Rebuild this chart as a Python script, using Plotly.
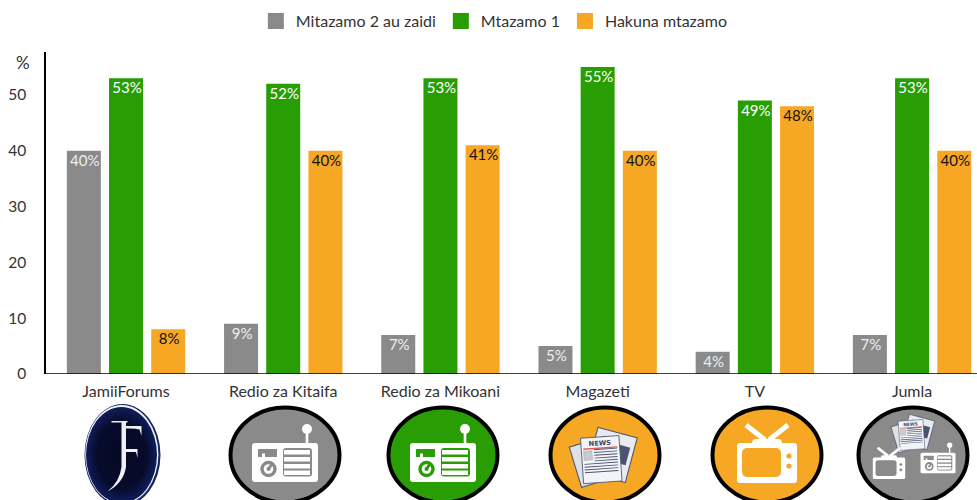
import base64
import plotly.graph_objects as go

categories = ["JamiiForums", "Redio za Kitaifa", "Redio za Mikoani", "Magazeti", "TV", "Jumla"]
series_names = ["Mitazamo 2 au zaidi", "Mtazamo 1", "Hakuna mtazamo"]
two_or_more = [40, 9, 7, 5, 4, 7]
one_view = [53, 52, 53, 55, 49, 53]
no_view = [8, 40, 41, 40, 48, 40]
y_ticks = [0, 10, 20, 30, 40, 50]

GREY, GREEN, ORANGE = "#8a8a8a", "#299e04", "#f6a723"
TEXT = "#333333"
FONT = "Lato, sans-serif"
W, H = 977, 500
L, T, B = 46, 52, 126
PW, PH = W - L, H - T - B


def radio(fg, bg):
    rows = "".join(f'<rect x="-1" y="{y}" width="26" height="4.5" fill="{fg}"/>' for y in (-5, 2, 9, 15.5))
    return (
        f'<rect x="-33" y="-12" width="66" height="39" rx="3" fill="{fg}"/>'
        f'<rect x="20.7" y="-25" width="2.6" height="14" fill="{fg}"/><circle cx="22" cy="-26" r="5" fill="{fg}"/>'
        f'<path d="M-27-6H-8V2H-20V-1.5H-23V2H-27Z" fill="{bg}"/>'
        f'<circle cx="-16.5" cy="14" r="6.5" fill="none" stroke="{bg}" stroke-width="3.4"/>'
        f'<path d="M-16.5 14L-13 9" stroke="{bg}" stroke-width="3"/><circle cx="-16.5" cy="14" r="2" fill="{bg}"/>'
        f'<rect x="-2" y="-7" width="29" height="28.5" rx="3" fill="{bg}"/>{rows}'
    )


def tv(fg, bg):
    return (
        f'<path d="M-2-15L-21-30M2-15L21-30" stroke="{fg}" stroke-width="5"/>'
        f'<rect x="-15" y="-16" width="30" height="8" rx="4" fill="{fg}"/>'
        f'<rect x="-30" y="-12" width="60" height="40" rx="3" fill="{fg}"/>'
        f'<rect x="-25" y="-7" width="39" height="29" rx="5" fill="{bg}"/>'
        f'<circle cx="22" cy="1" r="2.6" fill="{bg}"/><circle cx="22" cy="11" r="2.6" fill="{bg}"/>'
    )


def news():
    lines = "".join(
        f'<rect x="{-11 if y < 8 else -26}" y="{y}" width="{33 if y < 8 else 48}" height="1.3" fill="#4a5470"/>'
        for y in (-9, -5, -1, 3, 7, 11, 15, 19, 23)
    )
    return (
        '<g transform="rotate(15 14 -1)"><rect x="-15" y="-33" width="58" height="66" fill="#e8eaf0" stroke="#4a5470" stroke-width="1.5"/>'
        '<rect x="20" y="-17" width="17" height="26" fill="#4a5470"/></g>'
        '<g transform="rotate(-17 -14 7)"><rect x="-40" y="-20" width="52" height="60" fill="#dfe1e8" stroke="#4a5470" stroke-width="1.5"/></g>'
        '<g transform="rotate(-4)"><rect x="-29" y="-26" width="55" height="65" fill="#f3f4f8" stroke="#4a5470" stroke-width="1.2"/>'
        '<text x="-2" y="-14" font-family="DejaVu Sans" font-size="9.5" font-weight="900" text-anchor="middle" fill="#3d465f">NEWS</text>'
        '<rect x="-26" y="-11" width="49" height="2" fill="#e05a5a"/><rect x="-26" y="-7" width="12" height="13" fill="#c8cad0" stroke="#888" stroke-width=".5"/>'
        f'{lines}</g>'
    )


def badge(fill, body):
    return (
        f'<ellipse cx="0" cy="0" rx="54.5" ry="47.5" fill="{fill}" stroke="#000" stroke-width="4"/>{body}'
    )


jamii = (
    '<defs><radialGradient id="g"><stop offset="0" stop-color="#060822"/><stop offset=".7" stop-color="#070b2c"/>'
    '<stop offset="1" stop-color="#101d5a"/></radialGradient></defs>'
    '<ellipse cx="0" cy="0" rx="38" ry="51" fill="#16275f"/><ellipse cx="-.7" cy="-.6" rx="36.6" ry="49.5" fill="#f2f3f8"/>'
    '<ellipse cx="-1" cy="0" rx="35.5" ry="48" fill="url(#g)"/>'
    '<path d="M-11-34H5V-32.5H3.5V12Q1 28-15 36.5Q-3 27-1 12V-32.5H-11Z" fill="#eef0f6"/>'
    '<path d="M3-29H19V-19L17-25.5Q12-27 3-26.5ZM3-6H15V3L13.5-3H3Z" fill="#eef0f6"/>'
)

ICONS = [
    (122.5, jamii),
    (285, badge(GREY, radio("#ffffff", GREY))),
    (443, badge(GREEN, radio("#ffffff", GREEN))),
    (605, badge(ORANGE, '<g transform="translate(-3 0) scale(.7)">' + news() + "</g>")),
    (767, badge(ORANGE, tv("#ffffff", ORANGE))),
    (913, badge(GREY,
                '<g transform="translate(-1 -23) scale(.45)">' + news() + "</g>"
                '<g transform="translate(-24 9) scale(.54)">' + tv("#ffffff", GREY) + "</g>"
                '<g transform="translate(25 4) scale(.53)">' + radio("#ffffff", GREY) + "</g>")),
]


def icon_image(cx, body, cy=455, hw=60, hh=55):
    svg = (f'<svg xmlns="http://www.w3.org/2000/svg" width="{2*hw}" height="{2*hh}" '
           f'viewBox="{-hw} {-hh} {2*hw} {2*hh}">{body}</svg>')
    return dict(
        source="data:image/svg+xml;base64," + base64.b64encode(svg.encode()).decode(),
        xref="paper", yref="paper", layer="above", sizing="stretch",
        x=(cx - hw - L) / PW, y=(H - B - (cy - hh)) / PH,
        sizex=2 * hw / PW, sizey=2 * hh / PH, xanchor="left", yanchor="top",
    )


fig = go.Figure()
for name, vals, col, tcol in zip(series_names, [two_or_more, one_view, no_view],
                                 [GREY, GREEN, ORANGE], ["#eeeeee", "#ffffff", "#111111"]):
    fig.add_bar(
        x=categories, y=vals, name=name, marker=dict(color=col, line=dict(width=0)),
        legendgroup=name, showlegend=False,
        text=[f"{v}%" for v in vals], textposition="inside", insidetextanchor="end",
        textangle=0, constraintext="none", textfont=dict(family=FONT, size=15, color=tcol),
    )
    fig.add_scatter(
        x=[None], y=[None], name=name, mode="markers", legendgroup=name,
        marker=dict(symbol="square", size=16, color=col),
    )

fig.update_layout(
    width=W, height=H, margin=dict(l=L, r=0, t=T, b=B, pad=0),
    paper_bgcolor="white", plot_bgcolor="white",
    font=dict(family=FONT, size=16, color=TEXT),
    barmode="group", bargap=0.195, bargroupgap=0.194,
    legend=dict(orientation="h", x=0.506, xref="container", xanchor="center", y=0.992, yref="container",
                yanchor="top", font=dict(size=16), itemwidth=30, traceorder="normal"),
    images=[icon_image(cx, body) for cx, body in ICONS],
    annotations=[dict(text="%", xref="paper", yref="y", x=0, y=55.9, xanchor="right", xshift=-14,
                      showarrow=False, font=dict(size=17, color=TEXT))],
    showlegend=True,
    xaxis=dict(range=[-0.509, 5.413], showgrid=False, zeroline=False, showline=False, ticks="outside",
               ticklen=3, tickcolor="rgba(0,0,0,0)", tickfont=dict(size=16, color=TEXT)),
    yaxis=dict(range=[0, 57.7], tickvals=y_ticks, showgrid=False, zeroline=False, showline=True, linecolor="#000",
               linewidth=1.5, ticks="outside", ticklen=15, tickcolor="rgba(0,0,0,0)",
               tickfont=dict(size=15.5, color=TEXT)),
    shapes=[dict(type="line", xref="paper", yref="y", x0=0, x1=1, y0=0, y1=0, line=dict(color="#000", width=1.5))],
)
post = """
document.body.style.margin='0';
document.querySelectorAll('text.bartext').forEach(function(t){
  t.setAttribute('transform','translate(1,-3) '+(t.getAttribute('transform')||''));
});
"""
fig.write_html("out.html", config=dict(displayModeBar=False), post_script=post)
